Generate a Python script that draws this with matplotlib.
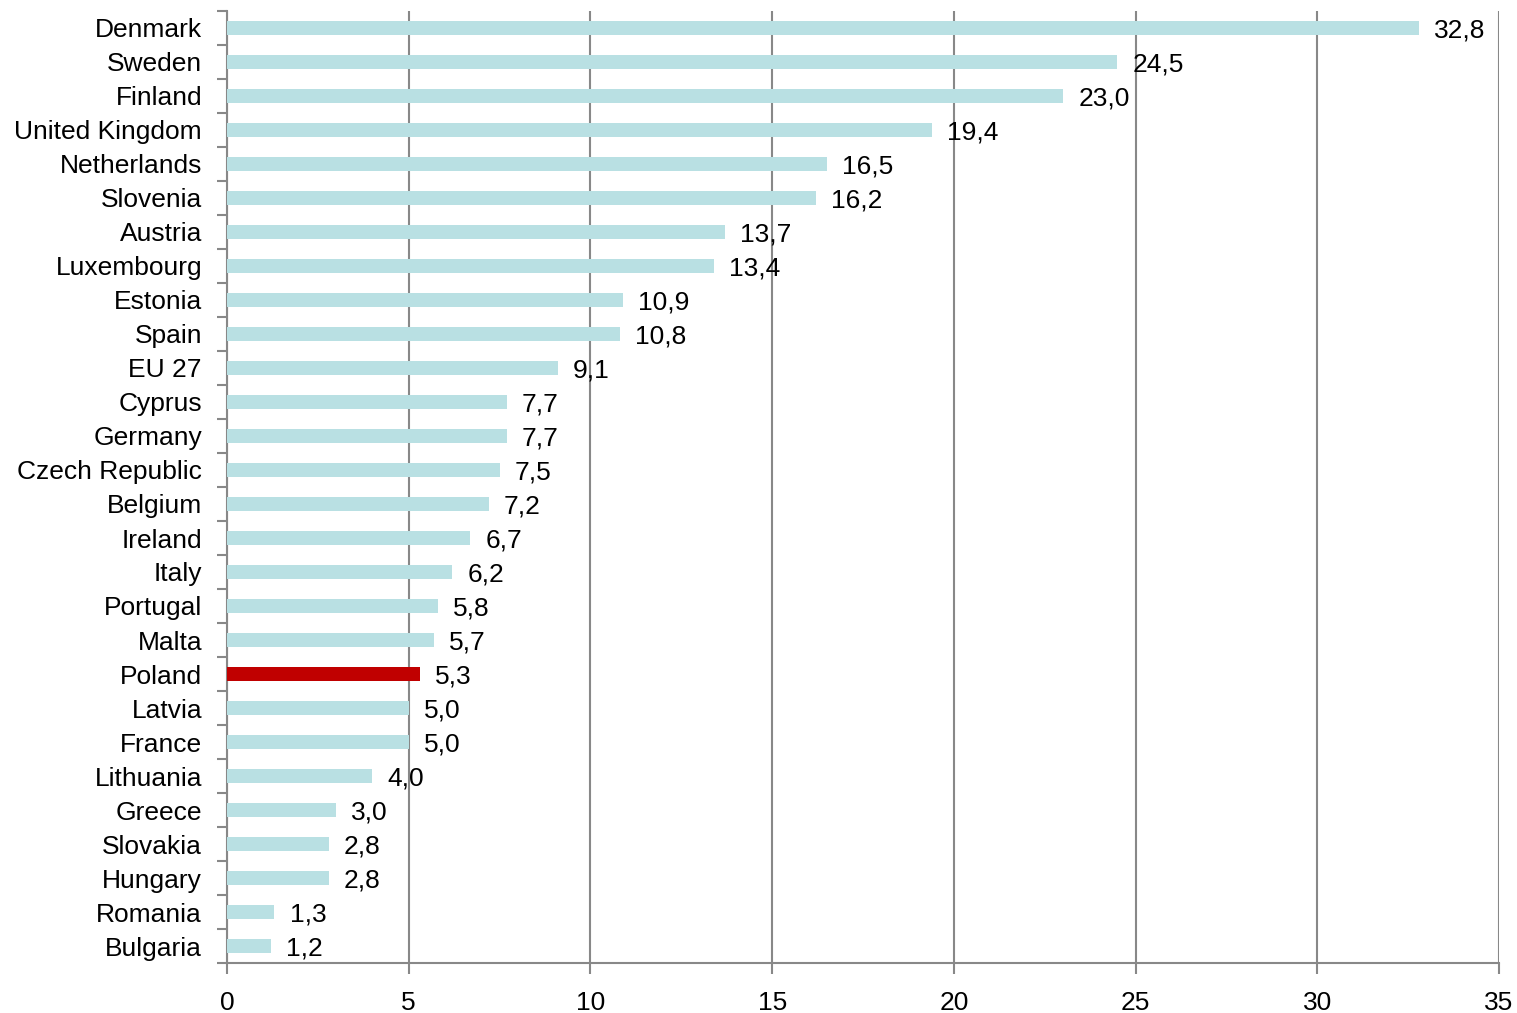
import matplotlib
matplotlib.use("Agg")
import matplotlib.pyplot as plt

countries = ["Denmark", "Sweden", "Finland", "United Kingdom", "Netherlands", "Slovenia",
             "Austria", "Luxembourg", "Estonia", "Spain", "EU 27", "Cyprus", "Germany",
             "Czech Republic", "Belgium", "Ireland", "Italy", "Portugal", "Malta", "Poland",
             "Latvia", "France", "Lithuania", "Greece", "Slovakia", "Hungary", "Romania",
             "Bulgaria"]
values = [32.8, 24.5, 23.0, 19.4, 16.5, 16.2, 13.7, 13.4, 10.9, 10.8, 9.1, 7.7, 7.7,
          7.5, 7.2, 6.7, 6.2, 5.8, 5.7, 5.3, 5.0, 5.0, 4.0, 3.0, 2.8, 2.8, 1.3, 1.2]
highlight = "Poland"
xticks = [0, 5, 10, 15, 20, 25, 30, 35]

plt.rcParams['font.family'] = ['Liberation Sans', 'DejaVu Sans']

fig = plt.figure(figsize=(15.17, 10.13), dpi=100)
ax = fig.add_axes([227/1517, 1-963/1013, (1499-227)/1517, 952/1013])

n = len(countries)
ypos = list(range(n))
colors = ["#C00000" if c == highlight else "#B9E0E3" for c in countries]
ax.barh(ypos, values, height=0.42, color=colors, zorder=3)
ax.set_ylim(n - 0.5, -0.5)
ax.set_xlim(0, 35)

ax.set_yticks(ypos)
ax.set_yticklabels(countries, fontsize=19)
ax.set_xticks(xticks)
ax.set_xticklabels([str(t) for t in xticks], fontsize=19)

# category boundary ticks on y axis
ax.set_yticks([i + 0.5 for i in range(-1, n)], minor=True)
ax.tick_params(axis='y', which='major', length=0, pad=18)
ax.tick_params(axis='y', which='minor', length=7, width=1.5, color='#888888', direction='out')
ax.tick_params(axis='x', which='major', length=8, width=1.5, color='#888888', pad=12)

ax.grid(axis='x', color='#888888', linewidth=1.5, zorder=0)
for s in ['top', 'right']:
    ax.spines[s].set_visible(False)
for s in ['left', 'bottom']:
    ax.spines[s].set_color('#888888')
    ax.spines[s].set_linewidth(1.5)

for y, v in zip(ypos, values):
    ax.text(v + 0.42, y, f"{v:.1f}".replace(".", ","), va='center_baseline', ha='left',
            fontsize=19, zorder=4)

fig.savefig("out.png", dpi=100)
